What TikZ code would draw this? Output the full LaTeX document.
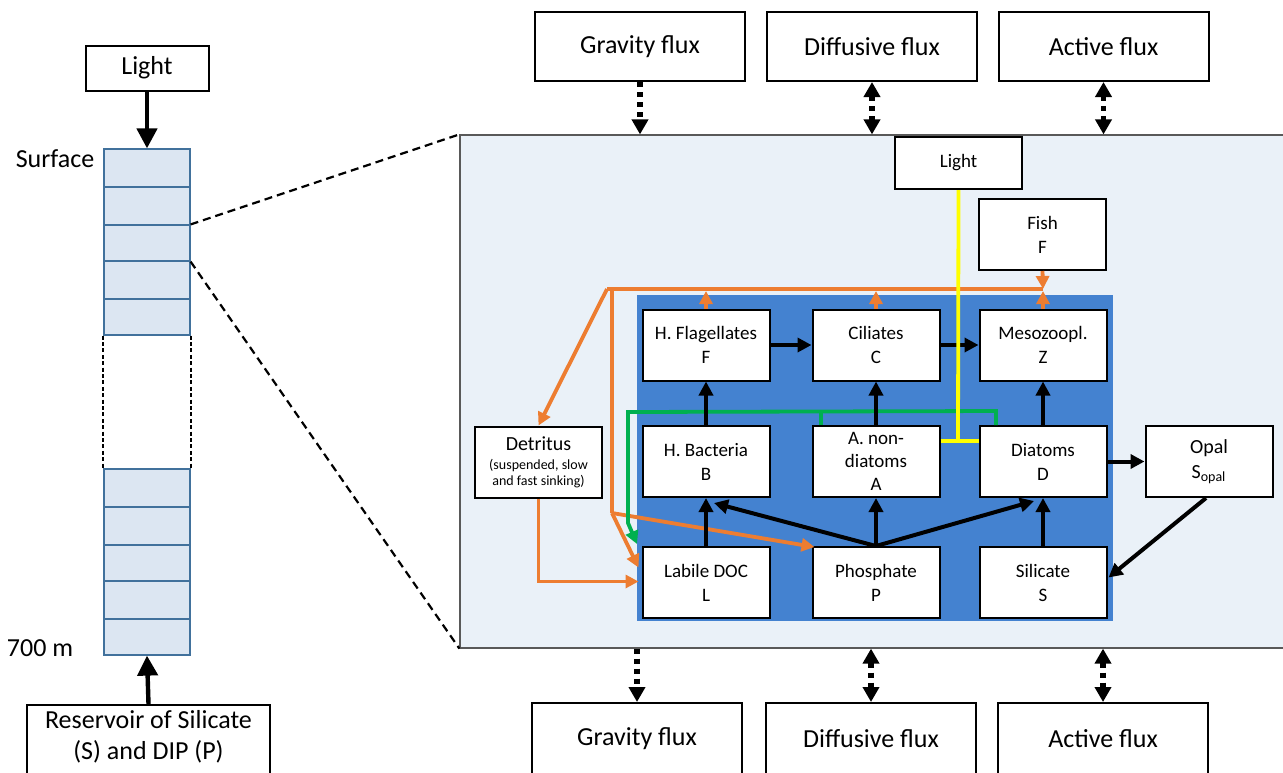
\documentclass[tikz,border=0pt]{standalone}
\usepackage{fontspec}
\setmainfont{Carlito}
\usetikzlibrary{arrows.meta,calc}
\definecolor{cellfill}{RGB}{220,230,242}
\definecolor{cellline}{RGB}{65,113,156}
\definecolor{bigfill}{RGB}{234,241,248}
\definecolor{innerblue}{RGB}{68,130,208}
\definecolor{oran}{RGB}{237,125,49}
\definecolor{grn}{RGB}{0,176,80}
\definecolor{yel}{RGB}{255,255,0}
\definecolor{bordergray}{RGB}{89,89,89}
\begin{document}
\begin{tikzpicture}[x=0.5pt,y=-0.5pt,
  box/.style={draw=black, fill=white, line width=1pt, inner sep=0pt, align=center},
  fluxbox/.style={box, minimum width=105pt, font=\fontsize{13}{15.5}\selectfont},
  ibox/.style={box, minimum width=63.5pt, minimum height=35.5pt, font=\fontsize{9.5}{12}\selectfont},
  cell/.style={draw=cellline, fill=cellfill, line width=0.6pt, minimum width=43pt, inner sep=0pt},
  lbl/.style={inner sep=0pt, font=\fontsize{13}{15.5}\selectfont},
  blk/.style={line width=2pt, -{Triangle[length=7pt,width=7pt]}},
  bigarr/.style={line width=2.2pt, -{Triangle[length=10pt,width=10pt]}},
  org/.style={draw=oran, line width=1.9pt},
  orgarr/.style={org, -{Triangle[length=6.5pt,width=6.5pt]}},
  grnline/.style={draw=grn, line width=1.9pt},
  yelline/.style={draw=yel, line width=1.9pt},
  zoomdash/.style={line width=1.1pt, dash pattern=on 4pt off 2.5pt},
  coldash/.style={line width=1pt, dash pattern=on 2pt off 1.2pt},
  fluxone/.style={line width=2.6pt, dash pattern=on 2.5pt off 2.5pt, -{Triangle[length=7.5pt,width=8pt]}},
  fluxtwo/.style={line width=2.6pt, dash pattern=on 2.5pt off 2.5pt, {Triangle[length=7.5pt,width=8pt]}-{Triangle[length=7.5pt,width=8pt]}}
]
\useasboundingbox (0,0) rectangle (1283,772);

% big zoom box and inner blue
\node[draw=bordergray, fill=bigfill, line width=0.6pt, minimum width=417.5pt, minimum height=256.5pt, inner sep=0pt] (big) at (877.5,391.5) {};
\node[fill=innerblue, minimum width=238pt, minimum height=163pt, inner sep=0pt] (inner) at (875,458) {};

% flux boxes
\node[fluxbox, minimum height=34.5pt] (gT) at (640,46.5) {Gravity flux};
\node[fluxbox, minimum height=34.5pt] (dT) at (872,46.5) {Diffusive flux};
\node[fluxbox, minimum height=34.5pt] (aT) at (1103.5,46.5) {Active flux};
\node[fluxbox, minimum height=36pt] (gB) at (637,739) {Gravity flux};
\node[fluxbox, minimum height=36pt] (dB) at (871,739) {Diffusive flux};
\node[fluxbox, minimum height=36pt] (aB) at (1103,739) {Active flux};

\draw[fluxone] (gT.south) -- (gT.south |- big.north);
\draw[fluxtwo] (dT.south) -- (dT.south |- big.north);
\draw[fluxtwo] (aT.south) -- (aT.south |- big.north);
\draw[fluxone] (gB.north |- big.south) -- (gB.north);
\draw[fluxtwo] (dB.north |- big.south) -- (dB.north);
\draw[fluxtwo] (aB.north |- big.south) -- (aB.north);

% left column
\node[box, minimum width=61.5pt, minimum height=22.5pt, font=\fontsize{13}{15.5}\selectfont] (lightL) at (147,68) {Light};
\node[lbl] (surf) at (55,159) {Surface};
\node[cell, minimum height=19pt] (c1) at (147,168) {};
\node[cell, minimum height=19pt] (c2) at (147,206) {};
\node[cell, minimum height=18pt] (c3) at (147,243) {};
\node[cell, minimum height=19pt] (c4) at (147,280) {};
\node[cell, minimum height=18pt] (c5) at (147,317) {};
\node[cell, minimum height=19pt] (c6) at (147,488) {};
\node[cell, minimum height=19pt] (c7) at (147,526) {};
\node[cell, minimum height=18pt] (c8) at (147,563) {};
\node[cell, minimum height=19pt] (c9) at (147,600) {};
\node[cell, minimum height=18pt] (c10) at (147,637) {};
\draw[coldash] (c5.south west) -- (c6.north west);
\draw[coldash] (c5.south east) -- (c6.north east);
\node[lbl] (depth) at (40,648) {700 m};
\node[box, minimum width=121.5pt, minimum height=40pt] (res) at (148.5,745) {};
\node[lbl, align=center] (restext) at (148.5,737) {Reservoir of Silicate\\(S) and DIP (P)};
\draw[bigarr] (lightL.south) -- (c1.north);
\draw[bigarr] (res.north) -- (c10.south);
\draw[zoomdash] (c3.north east) -- (big.north west);
\draw[zoomdash] (c3.south east) -- (big.south west);

% inner nodes
\node[ibox, minimum height=26pt] (lightI) at (958.5,163) {Light};
\node[ibox] (fish) at (1042.5,234.5) {Fish\\F};
\node[ibox] (F) at (706,345) {H. Flagellates\\F};
\node[ibox] (C) at (876,345) {Ciliates\\C};
\node[ibox] (Z) at (1043,345) {Mesozoopl.\\Z};
\node[ibox, font=\fontsize{9.5}{11.5}\selectfont] (A) at (876,461.5) {A. non-\\diatoms\\A};
\node[ibox] (B) at (706,461.5) {H. Bacteria\\B};
\node[ibox] (D) at (1043,461.5) {Diatoms\\D};
\node[ibox, font=\fontsize{10}{12.5}\selectfont] (opal) at (1209,461.5) {Opal\\S\textsubscript{opal}};
\node[ibox, font=\fontsize{7}{8}\selectfont] (det) at (538.5,462) {{\fontsize{10}{12}\selectfont Detritus}\\[1.5pt](suspended, slow\\and fast sinking)};
\node[ibox] (L) at (706,582.5) {Labile DOC\\L};
\node[ibox] (P) at (876,582.5) {Phosphate\\P};
\node[ibox] (S) at (1043,582.5) {Silicate\\S};

% orange
\coordinate (oR) at (1043,289);
\coordinate (oL) at (607,289);
\coordinate (oV) at (612,513);
\draw[org] (oR) -- (oL);
\draw[orgarr] (oL) -- (det.north);
\draw[org] (oV |- oL) -- (oV);
\draw[orgarr] (oV) -- ($(L.west)+(-3,-15)$);
\draw[orgarr] (oV) -- ($(P.north west)+(3,1)$);
\draw[orgarr] (det.south) |- ($(L.west)+(-3,-1)$);
\draw[orgarr] (F.north) -- ($(F.north |- oR)+(0,2)$);
\draw[orgarr] (C.north) -- ($(C.north |- oR)+(0,2)$);
\draw[orgarr] (Z.north) -- ($(Z.north |- oR)+(0,2)$);
\draw[orgarr] (fish.south) -- (oR);

% green
\coordinate (gcR) at ($(D.north west)+(17.5,-14)$);
\coordinate (gcL) at (628,412);
\coordinate (gcB) at (628,523);
\draw[grnline, -{Triangle[length=6.5pt,width=6.5pt]}] ($(D.north west)+(17.5,0)$) -- (gcR) -- (gcL) -- (gcB) -- ($(L.north west)+(-4.5,-2)$);
\draw[grnline] ($(A.north west)+(9.5,0)$) -- ($(A.north west)+(9.5,-14)$);

% black
\draw[blk] (F.east) -- (C.west);
\draw[blk] (C.east) -- (Z.west);
\draw[blk] (B.north) -- (F.south);
\draw[blk] (A.north) -- (C.south);
\draw[blk] (D.north) -- (Z.south);
\draw[blk] (L.north) -- (B.south);
\draw[blk] (P.north) -- (A.south);
\draw[blk] (S.north) -- (D.south);
\draw[blk] (P.north) -- ($(B.south)+(8,5)$);
\draw[blk] (P.north) -- ($(D.south)+(-9,3)$);
\draw[blk] (D.east) -- (opal.west);
\draw[blk] ($(opal.south)+(-3,0)$) -- ($(S.east)+(1,-5)$);

% yellow
\coordinate (yJ) at (958,441);
\draw[yelline] (lightI.south) -- (yJ);
\draw[yelline] (A.east |- yJ) -- (D.west |- yJ);
\end{tikzpicture}
\end{document}
